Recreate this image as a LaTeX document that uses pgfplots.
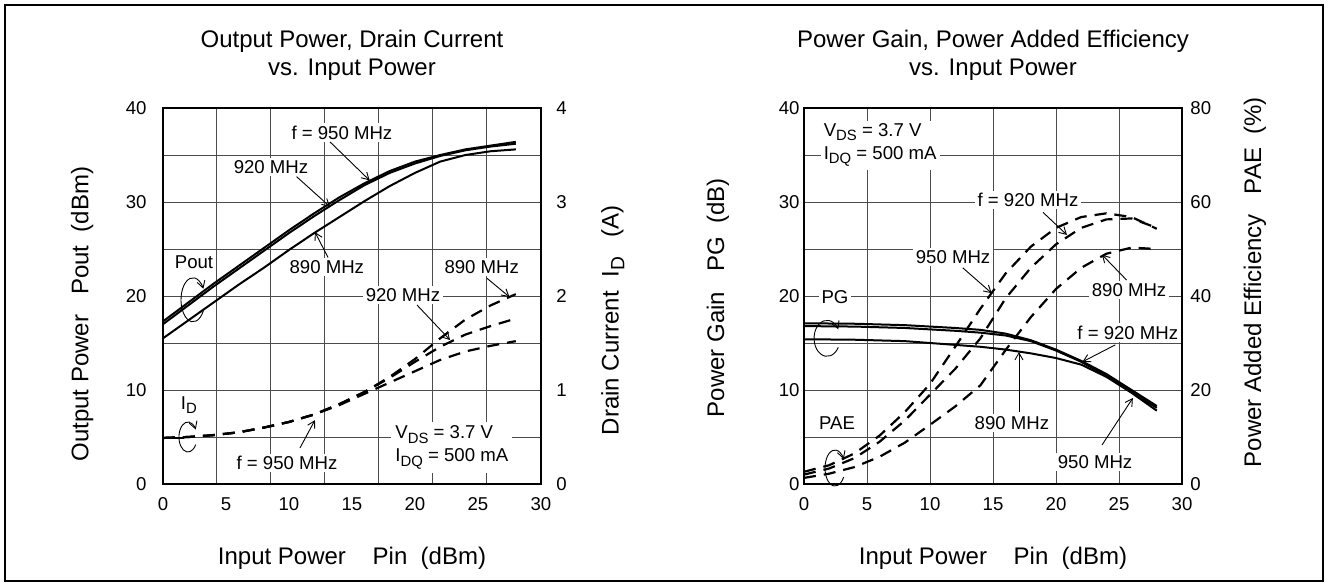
\documentclass[border=0pt]{standalone}
\usepackage{fontspec}
\setmainfont{Liberation Sans}
\usepackage{graphicx}
\usepackage{pgfplots}
\pgfplotsset{compat=1.18}
\usetikzlibrary{arrows.meta}

\newcommand{\fs}{\fontsize{9.3}{11.5}\selectfont}
\newcommand{\fl}{\fontsize{12}{14}\selectfont}
\newcommand{\sub}[1]{\raisebox{-0.45ex}{\scalebox{0.8}{#1}}}

\pgfplotsset{
  base/.style={
    scale only axis, width=189pt, height=188pt,
    xmin=0, xmax=30,
    major tick length=0pt, minor tick length=0pt,
    /pgf/number format/assume math mode=true,
    font=\fs,
    ticklabel style={font=\fs},
    label style={font=\fl},
    clip=false,
  },
}
\tikzset{
  curve/.style={black, line width=1pt},
  dcurve/.style={black, line width=1.1pt, dash pattern=on 6pt off 4pt},
  ann/.style={fill=white, inner sep=1.2pt, font=\fs},
  ttl/.style={font=\fl, anchor=base},
  arr/.style={-{Straight Barb[length=3.5pt,width=4pt]}, line width=0.45pt},
}

\begin{document}
\begin{tikzpicture}
\useasboundingbox (0,0) rectangle (664pt,293pt);
\draw[line width=1pt] (2.5pt,2.5pt) rectangle (661.5pt,290.5pt);

% ================= LEFT PANEL =================
\begin{axis}[base, at={(81.5pt,51pt)}, anchor=south west,
  ymin=0, ymax=40, ytick={0,10,...,40}, xtick={0,5,...,30},
  minor xtick={4.2857,8.5714,12.8571,17.1429,21.4286,25.7143},
  minor ytick={5,15,25,35},
  xminorgrids, ymajorgrids, yminorgrids,
  major grid style={line width=0.5pt, black!70},
  minor grid style={line width=0.5pt, black!70},
  axis line style={line width=1.2pt},
  yticklabel style={xshift=-4.7pt}, xticklabel style={yshift=-3.2pt},
  xlabel={Input Power\ \ \ \ Pin\ \ (dBm)}, xlabel style={at={(0.5,-0.213)}, anchor=base},
  ylabel={Output Power\ \ \ Pout\ \ (dBm)}, ylabel style={at={(-0.214,0.452)}, anchor=center},
]
% Pout 950 MHz
\addplot[curve, no marks] coordinates {(0,17.3)(2,19.3)(4,21.3)(6,23.2)(8,25.1)(10,27.0)(12,28.8)(14,30.5)(16,32.0)(18,33.3)(20,34.3)(22,35.0)(24,35.6)(26,36.0)(28,36.4)};
% Pout 920 MHz
\addplot[curve, no marks] coordinates {(0,17.0)(2,19.0)(4,21.0)(6,22.9)(8,24.8)(10,26.7)(12,28.5)(14,30.2)(16,31.8)(18,33.1)(20,34.1)(22,34.9)(24,35.5)(26,35.9)(28,36.2)};
% Pout 890 MHz
\addplot[curve, no marks] coordinates {(0,15.5)(2,17.4)(4,19.3)(6,21.2)(8,23.0)(10,24.9)(12,26.7)(14,28.4)(16,30.1)(18,31.7)(20,33.1)(22,34.3)(24,35.0)(26,35.4)(28,35.6)};

\node[ttl] at (axis description cs:0.5,1.1622) {Output Power, Drain Current};
\node[ttl] at (axis description cs:0.5,1.0878) {vs. Input Power};

\node[ann] at (axis cs:14.2,37.4) {f = 950 MHz};
\draw[arr] (axis cs:13.25,36.4) -- (axis cs:16.4,32.3);
\node[ann] at (axis cs:8.57,33.7) {920 MHz};
\draw[arr] (axis cs:10.6,32.7) -- (axis cs:13.25,29.5);
\node[ann] at (axis cs:13.0,23.1) {890 MHz};
\draw[arr] (axis cs:13.1,24.1) -- (axis cs:12.06,26.8);
\node[ann] at (axis cs:25.3,23.1) {890 MHz};
\draw[arr] (axis cs:25.7,21.9) -- (axis cs:27.5,19.9);
\node[ann] at (axis cs:2.46,23.6) {Pout};
\draw[arr] (axis cs:2.38,19.6) ++(-30:6pt and 11pt) arc[start angle=-30, end angle=-330, x radius=6pt, y radius=11pt];
\node[ann] at (axis cs:19.05,20.1) {920 MHz};
\draw[arr] (axis cs:20.16,19.04) -- (axis cs:22.78,15.32);
\node[ann] at (axis cs:2.06,8.4) {I\sub{D}};
\draw[arr] (axis cs:1.98,5.0) ++(-30:4.5pt and 7.5pt) arc[start angle=-30, end angle=-330, x radius=4.5pt, y radius=7.5pt];
\node[ann] at (axis cs:9.84,2.23) {f = 950 MHz};
\draw[arr] (axis cs:10.87,3.83) -- (axis cs:12.06,6.8);
\node[ann, align=left, anchor=west, inner sep=2pt] at (axis cs:18.1,3.9) {V\sub{DS} = 3.7 V\\I\sub{DQ} = 500 mA};
\end{axis}

\begin{axis}[base, at={(81.5pt,51pt)}, anchor=south west,
  ymin=0, ymax=4, ytick={0,1,...,4},
  axis y line*=right, axis x line=none, axis line style={draw=none},
  yticklabel style={xshift=4.2pt},
  ylabel={Drain Current\ \ I\sub{D}\ \ \ (A)}, ylabel style={at={(1.190,0.436)}, anchor=center},
]
\addplot[curve, no marks] coordinates {(0,0.49)(1.7,0.49)};
% ID 890 MHz
\addplot[dcurve, no marks] coordinates {(0,0.49)(2,0.5)(4,0.52)(6,0.55)(8,0.6)(10,0.66)(12,0.74)(14,0.85)(16,0.98)(18,1.14)(20,1.33)(22,1.55)(24,1.75)(26,1.9)(28,2.02)};
% ID 920 MHz
\addplot[dcurve, no marks] coordinates {(0,0.49)(2,0.5)(4,0.52)(6,0.55)(8,0.6)(10,0.66)(12,0.74)(14,0.85)(16,0.98)(18,1.13)(20,1.3)(22,1.46)(24,1.59)(26,1.68)(28,1.76)};
% ID 950 MHz
\addplot[dcurve, no marks] coordinates {(0,0.49)(2,0.5)(4,0.52)(6,0.55)(8,0.6)(10,0.66)(12,0.74)(14,0.84)(16,0.96)(18,1.08)(20,1.2)(22,1.32)(24,1.41)(26,1.47)(28,1.52)};
\end{axis}

% ================= RIGHT PANEL =================
\begin{axis}[base, at={(402pt,51pt)}, anchor=south west,
  ymin=0, ymax=40, ytick={0,10,...,40}, xtick={0,5,...,30},
  minor ytick={5,15,25,35},
  xmajorgrids, ymajorgrids, yminorgrids,
  major grid style={line width=0.5pt, black!70},
  minor grid style={line width=0.5pt, black!70},
  axis line style={line width=1.2pt},
  yticklabel style={xshift=1.3pt}, xticklabel style={yshift=-3.2pt},
  xlabel={Input Power\ \ \ \ Pin\ \ (dBm)}, xlabel style={at={(0.5,-0.213)}, anchor=base},
  ylabel={Power Gain\ \ \ PG\ \ (dB)}, ylabel style={at={(-0.228,0.495)}, anchor=center},
]
% PG 920 MHz
\addplot[curve, no marks] coordinates {(0,17.1)(4,17.05)(8,16.9)(12,16.6)(14,16.4)(16,16.0)(18,15.3)(20,14.3)(22,13.1)(24,11.7)(26,10.0)(28,8.3)};
% PG 950 MHz
\addplot[curve, no marks] coordinates {(0,16.8)(4,16.75)(8,16.6)(12,16.3)(14,16.1)(16,15.8)(18,15.2)(20,14.2)(22,13.0)(24,11.5)(26,9.8)(28,8.1)};
% PG 890 MHz
\addplot[curve, no marks] coordinates {(0,15.4)(4,15.35)(8,15.2)(12,14.8)(14,14.6)(16,14.3)(18,13.9)(20,13.4)(22,12.7)(24,11.4)(26,9.7)(28,7.8)};

\node[ttl] at (axis description cs:0.5,1.1622) {Power Gain, Power Added Efficiency};
\node[ttl] at (axis description cs:0.5,1.0878) {vs. Input Power};

\node[ann, align=left, anchor=west, inner sep=1.5pt] at (axis cs:1.3,36.05) {V\sub{DS} = 3.7 V\\I\sub{DQ} = 500 mA};
\node[ann] at (axis cs:17.78,30.2) {f = 920 MHz};
\draw[arr] (axis cs:18.97,28.9) -- (axis cs:20.87,26.5);
\node[ann] at (axis cs:11.83,24.1) {950 MHz};
\draw[arr] (axis cs:12.6,23.0) -- (axis cs:14.9,20.3);
\node[ann] at (axis cs:25.8,20.6) {890 MHz};
\draw[arr] (axis cs:25.6,21.7) -- (axis cs:23.65,24.4);
\node[ann] at (axis cs:2.46,19.9) {PG};
\draw[arr] (axis cs:1.83,15.5) ++(-30:6.5pt and 9pt) arc[start angle=-30, end angle=-330, x radius=6.5pt, y radius=9pt];
\node[ann] at (axis cs:25.7,16.1) {f = 920 MHz};
\draw[arr] (axis cs:24.7,14.8) -- (axis cs:22.1,13.0);
\node[ann] at (axis cs:16.5,6.5) {890 MHz};
\draw[arr] (axis cs:17.06,7.66) -- (axis cs:17.06,14.04);
\node[ann] at (axis cs:23.1,2.34) {950 MHz};
\draw[arr] (axis cs:23.65,4.15) -- (axis cs:26.1,9.15);
\node[ann] at (axis cs:2.62,6.5) {PAE};
\draw[arr] (axis cs:2.46,1.7) ++(-30:5pt and 9pt) arc[start angle=-30, end angle=-330, x radius=5pt, y radius=9pt];
\end{axis}

\begin{axis}[base, at={(402pt,51pt)}, anchor=south west,
  ymin=0, ymax=80, ytick={0,20,...,80},
  axis y line*=right, axis x line=none, axis line style={draw=none},
  yticklabel style={xshift=0.7pt},
  ylabel={Power Added Efficiency\ \ \ PAE\ \ (\%)}, ylabel style={at={(1.193,0.537)}, anchor=center},
]
% PAE 950 MHz
\addplot[dcurve, no marks] coordinates {(0,2.6)(2,4.0)(4,6.5)(6,10.3)(8,15.3)(10,21.3)(12,29.2)(14,37.3)(16,44.8)(18,50.5)(20,54.5)(22,56.8)(24,57.6)(26,56.8)(28,54.3)};
% PAE 920 MHz
\addplot[dcurve, no marks] coordinates {(0,2.0)(2,3.3)(4,5.5)(6,9.0)(8,13.5)(10,19.0)(12,24.5)(14,31.0)(16,39.5)(18,46.0)(20,51.0)(22,54.5)(24,56.3)(26,56.5)(28,54.5)};
% PAE 890 MHz
\addplot[dcurve, no marks] coordinates {(0,1.3)(2,2.2)(4,3.6)(6,5.8)(8,8.8)(10,12.6)(12,16.5)(14,21.0)(16,28.5)(18,35.5)(20,41.5)(22,46.0)(24,49.0)(26,50.3)(28,50.0)};
\end{axis}
\end{tikzpicture}
\end{document}
